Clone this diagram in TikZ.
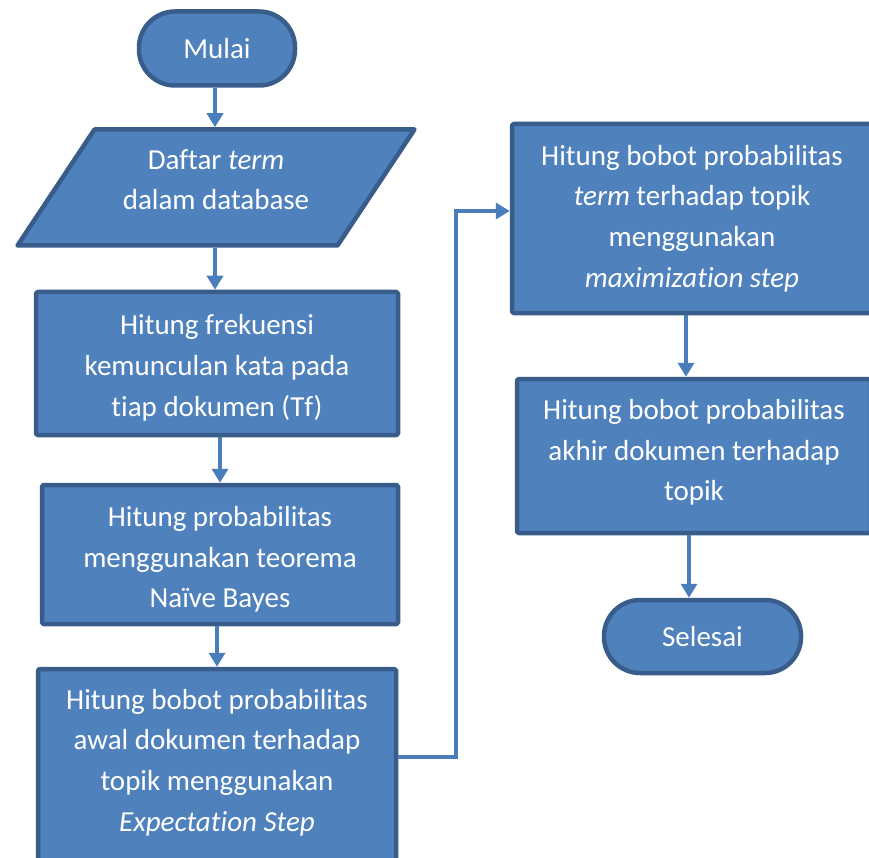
\documentclass[tikz,border=0pt]{standalone}
\usepackage{fontspec}
\setmainfont{Carlito}[Ligatures=NoCommon]
\usetikzlibrary{arrows.meta,calc}
\definecolor{boxfill}{HTML}{4F81BD}
\definecolor{boxedge}{HTML}{385D8A}
\definecolor{flowline}{HTML}{4A7EBB}
\begin{document}
\begin{tikzpicture}[x=1pt,y=-1pt,
  label text/.style={text=white, align=center, inner sep=0pt,
    font=\fontsize{29}{40.7}\selectfont},
  base/.style={label text, fill=boxfill, draw=boxedge, line width=4.5pt,
    line join=round},
  process/.style={base, rectangle, rounded corners=1.5pt},
  terminal/.style={base, rectangle, rounded corners=36pt},
  flow/.style={draw=flowline, line width=4.5pt,
    -{Triangle[width=16pt,length=14pt]}}
]
\useasboundingbox (0,0) rectangle (869,858);
\clip (0,0) rectangle (869,858);

% input/output parallelogram, drawn as a plain path behind its label node
\draw[base] (17.5,245.5) -- (94.5,129.5) -- (414.5,129.5) -- (337.5,245.5) -- cycle;

% left column
\node[terminal, minimum width=156pt, minimum height=74pt] (start) at (217,48.5) {Mulai};
\node[label text, minimum width=320pt, minimum height=116pt, outer sep=2.25pt]
  (list) at (216,187.5)
  {Daftar \textit{term}\\dalam database\rule[-16pt]{0pt}{0pt}};
\node[process, minimum width=362pt, minimum height=143pt] (tf) at (217,363.5)
  {\rule{0pt}{29pt}Hitung frekuensi\\kemunculan kata pada\\tiap dokumen (Tf)};
\node[process, minimum width=356pt, minimum height=139pt] (nb) at (220,554.5)
  {\rule{0pt}{30pt}Hitung probabilitas\\menggunakan teorema\\Naïve Bayes};
\node[process, minimum width=358pt, minimum height=211pt] (estep) at (217,774.5)
  {Hitung bobot probabilitas\\awal dokumen terhadap\\topik menggunakan\\
   \textit{Expectation Step}\rule[-29pt]{0pt}{0pt}};

% right column
\node[process, minimum width=360pt, minimum height=189pt] (mstep) at (692,218.5)
  {Hitung bobot probabilitas\\\textit{term} terhadap topik\\menggunakan\\
   \textit{maximization step}};
\node[process, minimum width=354pt, minimum height=154pt] (final) at (694,456)
  {Hitung bobot probabilitas\\akhir dokumen terhadap\\topik\rule[-12pt]{0pt}{0pt}};
\node[terminal, minimum width=197pt, minimum height=73pt] (stop) at (702.5,636.5)
  {Selesai};

% connectors
\draw[flow] ($(start.south)+(-2,0)$) -- ($(start.south |- list.north)+(-2,0)$);
\draw[flow] ($(list.south)+(-1,0)$) -- ($(list.south |- tf.north)+(-1,0)$);
\draw[flow] (nb.north |- tf.south) -- (nb.north);
\draw[flow] (estep.north |- nb.south) -- (estep.north);
\coordinate (low) at (456,757);
\coordinate (high) at (456,211);
\draw[flow] (estep.east |- low) -- (low) -- (high) -- (mstep.west |- high);
\coordinate (mdown) at (686,0);
\coordinate (fdown) at (689,0);
\draw[flow] (mstep.south -| mdown) -- (final.north -| mdown);
\draw[flow] (final.south -| fdown) -- (stop.north -| fdown);
\end{tikzpicture}
\end{document}
